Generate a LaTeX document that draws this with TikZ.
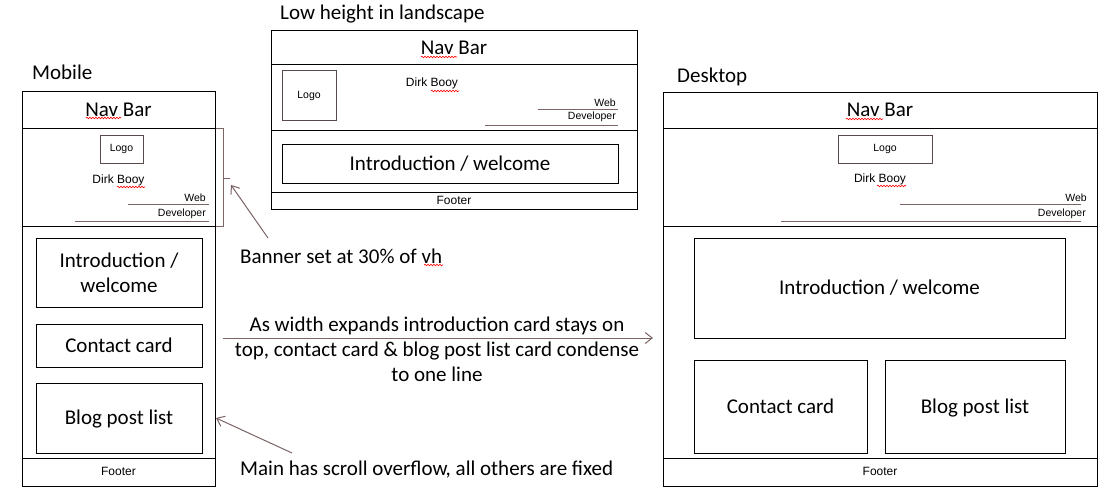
\documentclass[tikz,border=0pt]{standalone}
\usepackage{fontspec}
\setmainfont{Carlito}
\newfontfamily\smallsans{Liberation Sans}
\usetikzlibrary{arrows.meta,decorations.pathmorphing}
\definecolor{notebrown}{RGB}{122,100,100}
\definecolor{logoedge}{RGB}{90,74,74}

\begin{document}
\begin{tikzpicture}[x=1pt,y=-1pt,
    framebox/.style={draw=black,line width=1pt},
    cardbox/.style={draw=black,line width=1pt,inner sep=0pt,align=center,font=\fontsize{21}{25}\selectfont},
    bigtxt/.style={font=\fontsize{21}{25}\selectfont,inner sep=0pt},
    tinytxt/.style={font=\smallsans\fontsize{10.5}{12}\selectfont,inner sep=0pt},
    nametxt/.style={font=\smallsans\fontsize{12}{14}\selectfont,inner sep=0pt},
    foottxt/.style={font=\smallsans\fontsize{12}{14}\selectfont,inner sep=0pt},
    logobox/.style={draw=logoedge,line width=1pt,tinytxt},
    underrule/.style={draw=notebrown,line width=1pt},
    bracketline/.style={draw=notebrown,line width=1pt},
    noteline/.style={draw=notebrown,line width=1pt,-{Straight Barb[length=7pt,width=11pt]}},
    squig/.style={draw=red,line width=0.6pt,decorate,decoration={snake,amplitude=0.8pt,segment length=3pt}}]
    \useasboundingbox (0,0) rectangle (1106,495);

    % mobile
    \node[bigtxt,anchor=west] (mobTitle) at (32,72) {Mobile};
    \draw[framebox] (22,91) rectangle (215,486);
    \draw[framebox] (22,128) -- (215,128);
    \draw[framebox] (22,226) -- (215,226);
    \draw[framebox] (22,458) -- (215,458);
    \node[bigtxt] (mobNav) at (118.5,110) {Nav Bar};
    \node[logobox,minimum width=43pt,minimum height=28pt] (mobLogo) at (121.5,149) {Logo};
    \node[nametxt] (mobName) at (118.5,180) {Dirk Booy};
    \node[tinytxt,anchor=east] (mobWeb) at (206,198) {Web};
    \draw[underrule] (128,204) -- (209,204);
    \node[tinytxt,anchor=east] (mobDev) at (206,214) {Developer};
    \draw[underrule] (75,221) -- (209,221);
    \node[cardbox,minimum width=166pt,minimum height=69pt] (mobIntro) at (119,272.5) {Introduction /\\welcome};
    \node[cardbox,minimum width=166pt,minimum height=43pt] (mobContact) at (119,345.5) {Contact card};
    \node[cardbox,minimum width=166pt,minimum height=70pt] (mobBlog) at (119,418) {\raisebox{0pt}[13pt][0pt]{Blog post list}};
    \node[foottxt] (mobFoot) at (118.5,471) {Footer};
    \draw[bracketline] (216,128) -- (223,128) -- (223,226) -- (216,226);
    \draw[bracketline] (223,178) -- (230,178);

    % landscape
    \node[bigtxt,anchor=west] (landTitle) at (280,14) {Low height in landscape};
    \draw[framebox] (271,31) rectangle (637,209);
    \draw[framebox] (271,65) -- (637,65);
    \draw[framebox] (271,130) -- (637,130);
    \draw[framebox] (271,192) -- (637,192);
    \node[bigtxt] (landNav) at (454,48) {Nav Bar};
    \node[logobox,minimum width=54pt,minimum height=49pt] (landLogo) at (309,95.5) {Logo};
    \node[nametxt] (landName) at (432,83) {Dirk Booy};
    \node[tinytxt,anchor=east] (landWeb) at (616,103) {Web};
    \draw[underrule] (538,109) -- (618,109);
    \node[tinytxt,anchor=east] (landDev) at (616,117) {Developer};
    \draw[underrule] (485,125) -- (618,125);
    \node[cardbox,minimum width=336pt,minimum height=39pt] (landIntro) at (450,163.5) {Introduction / welcome};
    \node[foottxt] (landFoot) at (454,200.5) {Footer};

    % desktop
    \node[bigtxt,anchor=west] (deskTitle) at (677,77) {Desktop};
    \draw[framebox] (663,92) rectangle (1097,486);
    \draw[framebox] (663,128) -- (1097,128);
    \draw[framebox] (663,226) -- (1097,226);
    \draw[framebox] (663,458) -- (1097,458);
    \node[bigtxt] (deskNav) at (880,110) {Nav Bar};
    \node[logobox,minimum width=94pt,minimum height=28pt] (deskLogo) at (885,149) {Logo};
    \node[nametxt] (deskName) at (880,179) {Dirk Booy};
    \node[tinytxt,anchor=east] (deskWeb) at (1087,198) {Web};
    \draw[underrule] (900,204) -- (1081,204);
    \node[tinytxt,anchor=east] (deskDev) at (1086,214) {Developer};
    \draw[underrule] (781,221) -- (1081,221);
    \node[cardbox,minimum width=371pt,minimum height=100pt] (deskIntro) at (879.5,288) {Introduction / welcome};
    \node[cardbox,minimum width=173pt,minimum height=93pt] (deskContact) at (780.5,406.5) {Contact card};
    \node[cardbox,minimum width=180pt,minimum height=93pt] (deskBlog) at (975,406.5) {\raisebox{0pt}[13pt][0pt]{Blog post list}};
    \node[foottxt] (deskFoot) at (880,471) {Footer};

    % notes
    \node[bigtxt,anchor=west] (bannerNote) at (240,256) {Banner set at 30\% of vh};
    \node[bigtxt,align=center] (widthNote) at (437,349) {As width expands introduction card stays on\\top, contact card \& blog post list card condense\\to one line};
    \node[bigtxt,anchor=west] (mainNote) at (240,470) {Main has scroll overflow, all others are fixed};
    \coordinate (bannerTail) at (268,238);
    \coordinate (bannerTip) at (231,185);
    \coordinate (widthTail) at (223,338);
    \coordinate (widthTip) at (653,338);
    \coordinate (mainTail) at (292,453);
    \coordinate (mainTip) at (216,418);
    \draw[noteline] (bannerTail) -- (bannerTip);
    \draw[noteline] (widthTail) -- (widthTip);
    \draw[noteline] (mainTail) -- (mainTip);

    \foreach \xa/\xb/\yy in {86/121/118, 117/145/187, 421/457/57, 431/459/91, 846/883/119, 877/906/186, 424/443/265}
        \draw[squig] (\xa,\yy) -- (\xb,\yy);
\end{tikzpicture}
\end{document}
